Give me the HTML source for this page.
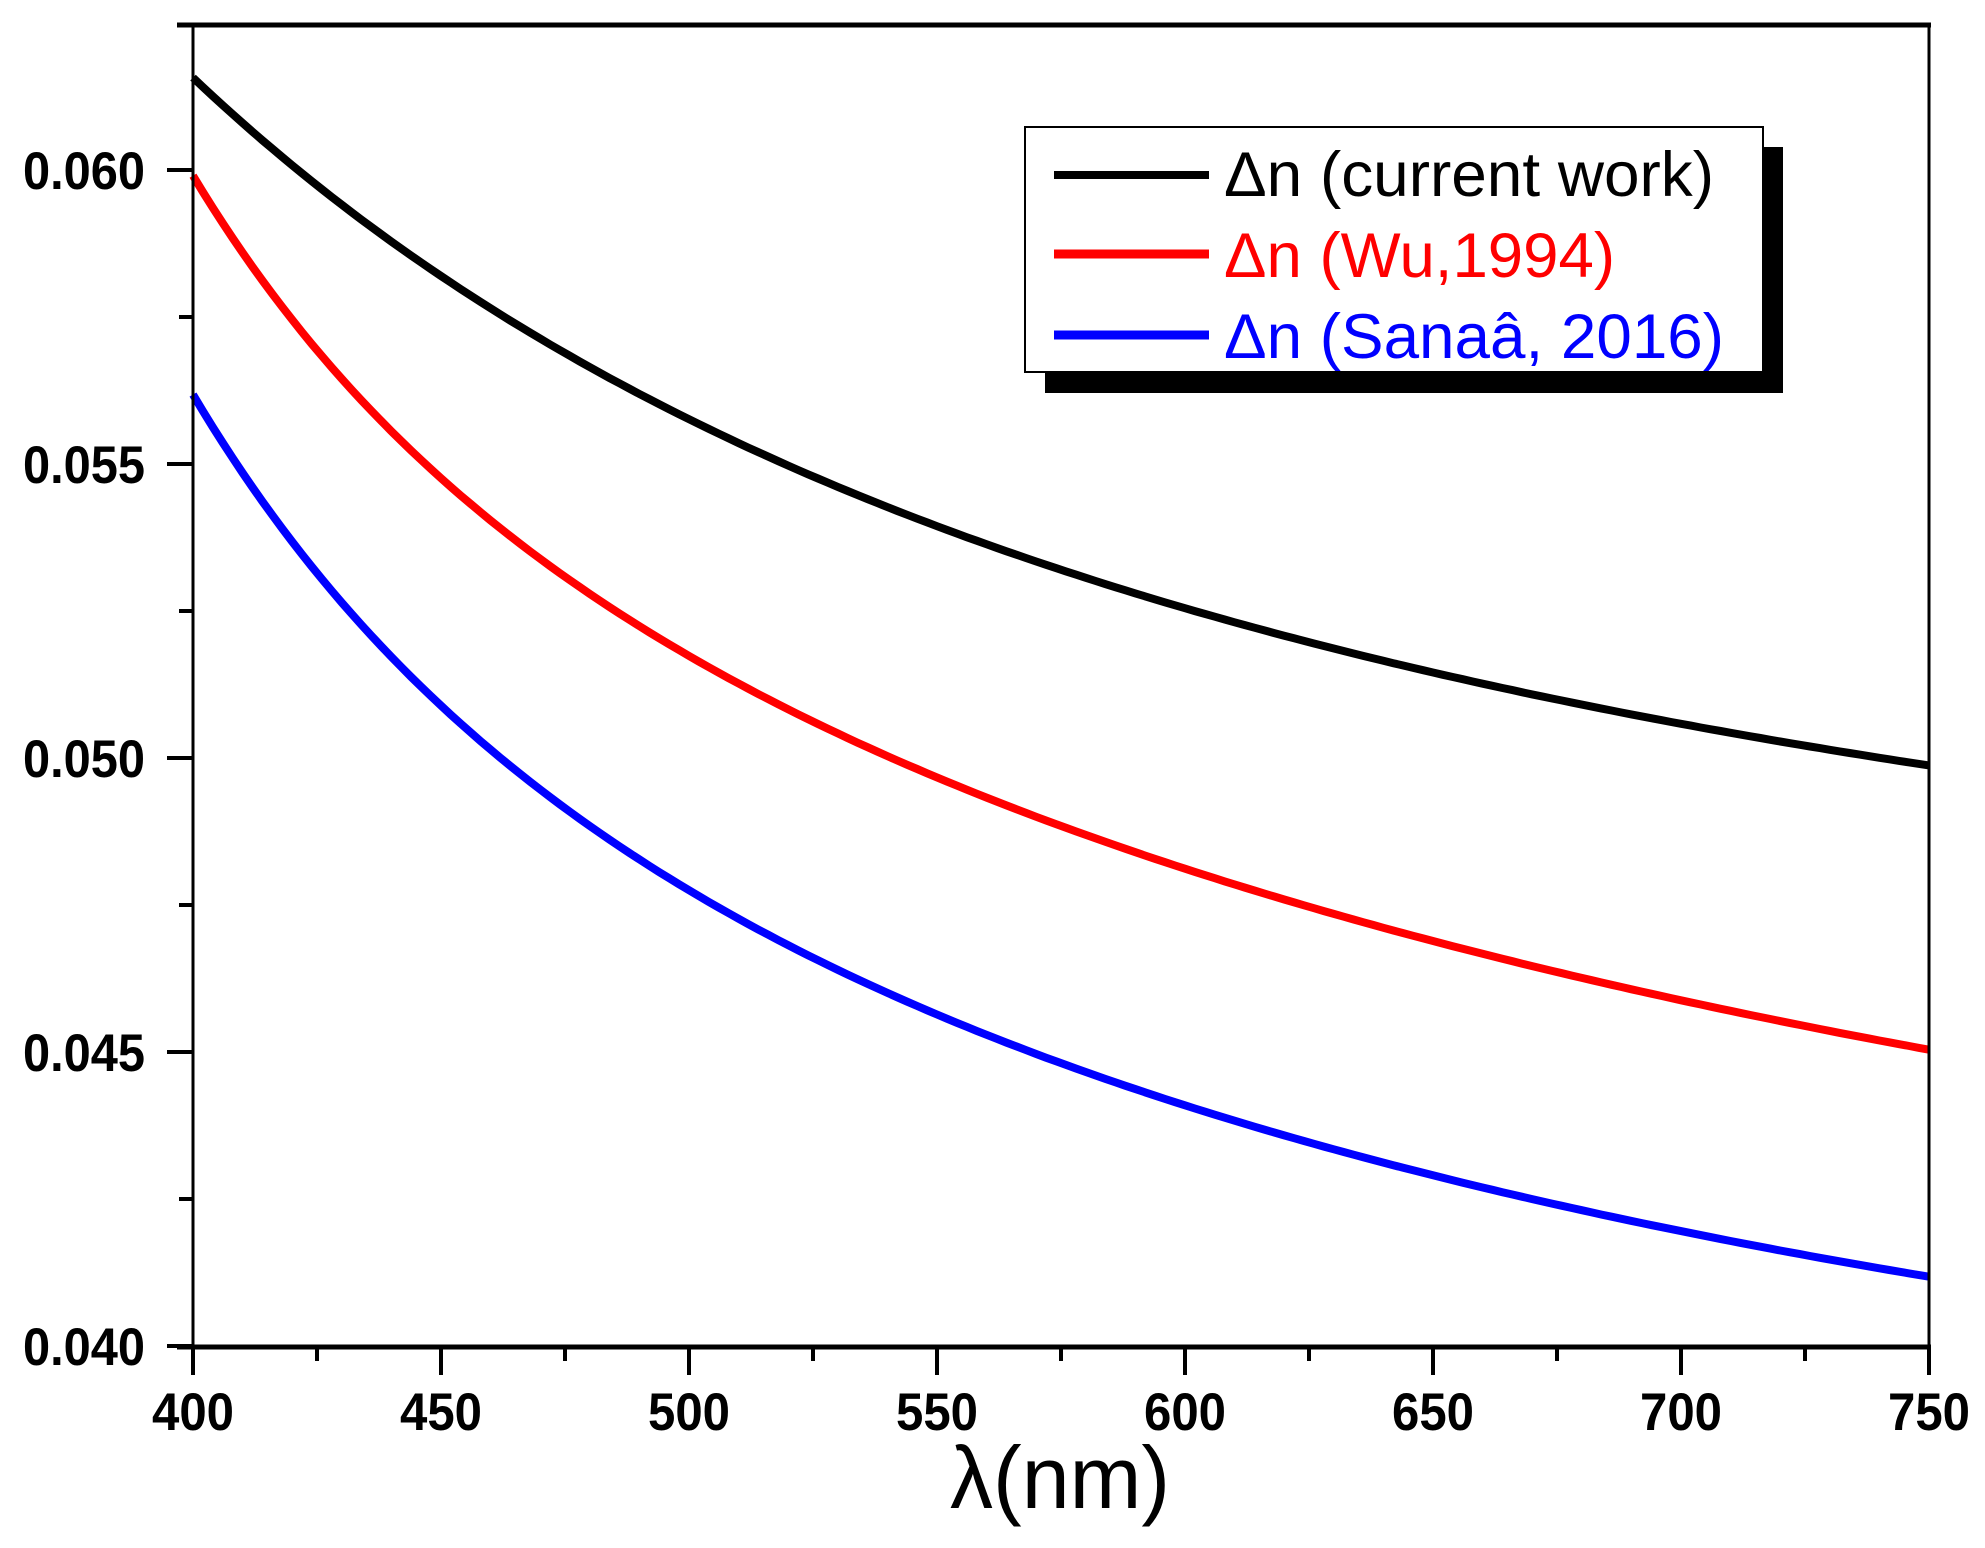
<!DOCTYPE html>
<html><head><meta charset="utf-8"><style>
html,body{margin:0;padding:0;background:#fff;}
svg{display:block;}
</style></head><body>
<svg id="s" width="1985" height="1548" xmlns="http://www.w3.org/2000/svg" font-family="Liberation Sans, Arial, sans-serif">
<rect width="1985" height="1548" fill="#fff"/>
<g id="curves"></g>
<line x1="177" y1="25" x2="1931" y2="25" stroke="#000" stroke-width="5"/>
<line x1="1929" y1="23" x2="1929" y2="1348" stroke="#000" stroke-width="3"/>
<line x1="193" y1="25" x2="193" y2="1346" stroke="#000" stroke-width="3"/>
<line x1="177" y1="1347" x2="1931" y2="1347" stroke="#000" stroke-width="5"/>
<g id="ticks" stroke="#000" stroke-width="3"></g>
<g id="labels" font-weight="bold" font-size="53" fill="#000"></g>
<text x="1060" y="1508" font-size="88" text-anchor="middle" textLength="220" lengthAdjust="spacingAndGlyphs">λ(nm)</text>
<rect x="1045" y="147" width="738" height="246" fill="#000"/>
<rect x="1025" y="127" width="738" height="245" fill="#fff" stroke="#000" stroke-width="2"/>
<line x1="1054" y1="175" x2="1209" y2="175" stroke="#000" stroke-width="8"/>
<line x1="1054" y1="254" x2="1209" y2="254" stroke="#f00" stroke-width="9"/>
<line x1="1054" y1="335" x2="1209" y2="335" stroke="#00f" stroke-width="9"/>
<text x="1224" y="196" font-size="63" fill="#000" textLength="490" lengthAdjust="spacingAndGlyphs">Δn (current work)</text>
<text x="1224" y="277" font-size="63" fill="#f00" textLength="391" lengthAdjust="spacingAndGlyphs">Δn (Wu,1994)</text>
<text x="1224" y="358" font-size="63" fill="#00f" textLength="500" lengthAdjust="spacingAndGlyphs">Δn (Sanaâ, 2016)</text>
</svg>
<script>
var NS="http://www.w3.org/2000/svg";
function X(l){return 193+(l-400)*(1929-193)/350;}
function Y(v){return 1346-(v-0.040)*(1346-170)/0.020;}
function el(p,t,a){var e=document.createElementNS(NS,t);for(var k in a)e.setAttribute(k,a[k]);p.appendChild(e);return e;}
var tk=document.getElementById('ticks'),lb=document.getElementById('labels');
for(var l=400;l<=750;l+=25){var maj=(l%50==0);el(tk,'line',{x1:X(l),y1:1346,x2:X(l),y2:1346+(maj?29:15),'stroke-width':4});
 if(maj){var t=el(lb,'text',{x:X(l),y:1430,'text-anchor':'middle',textLength:82,lengthAdjust:'spacingAndGlyphs'});t.textContent=l;}}
for(var i=0;i<=8;i++){var v=0.040+i*0.0025,maj=(i%2==0);el(tk,'line',{x1:193-(maj?26:14),y1:Y(v),x2:193,y2:Y(v),'stroke-width':4});
 if(maj){var t=el(lb,'text',{x:23,y:Y(v)+19,textLength:122,lengthAdjust:'spacingAndGlyphs'});t.textContent=v.toFixed(3);}}
var data={
 "#000":[[400,0.06157],[454.4,0.05799],[500,0.05571],[600,0.05255],[650,0.05149],[750,0.04987]],
 "#f00":[[400,0.0599],[421.6,0.05733],[461.9,0.05383],[500,0.0518],[600,0.0481],[750,0.04504]],
 "#00f":[[400,0.05619],[421.6,0.05347],[450,0.0508],[470.4,0.04927],[500,0.04815],[600,0.04388],[750,0.04119]]};
function solve(A,b){var n=b.length;for(var i=0;i<n;i++){var p=i;for(var r=i+1;r<n;r++)if(Math.abs(A[r][i])>Math.abs(A[p][i]))p=r;
 var t=A[i];A[i]=A[p];A[p]=t;t=b[i];b[i]=b[p];b[p]=t;
 for(var r=0;r<n;r++)if(r!=i){var f=A[r][i]/A[i][i];for(var c=i;c<n;c++)A[r][c]-=f*A[i][c];b[r]-=f*b[i];}}
 var x=[];for(var i=0;i<n;i++)x.push(b[i]/A[i][i]);return x;}
var cg=document.getElementById('curves');
for(var c in data){var N=4,A=[],b=[];for(var i=0;i<N;i++){A.push([0,0,0,0]);b.push(0);}
 data[c].forEach(function(p){var u=Math.pow(400/p[0],2);var f=[1,u,u*u,u*u*u];var w=(p[0]==400||p[0]==750)?5:1;
  for(var i=0;i<N;i++){b[i]+=w*f[i]*p[1];for(var j=0;j<N;j++)A[i][j]+=w*f[i]*f[j];}});
 var k=solve(A,b);var d="";
 for(var l=400;l<=750;l+=2){var u=Math.pow(400/l,2);var v=k[0]+k[1]*u+k[2]*u*u+k[3]*u*u*u;d+=(l==400?"M":"L")+X(l).toFixed(1)+","+Y(v).toFixed(1);}
 el(cg,'path',{d:d,fill:'none',stroke:c,'stroke-width':8,'stroke-linejoin':'round'});}
</script>
</body></html>
